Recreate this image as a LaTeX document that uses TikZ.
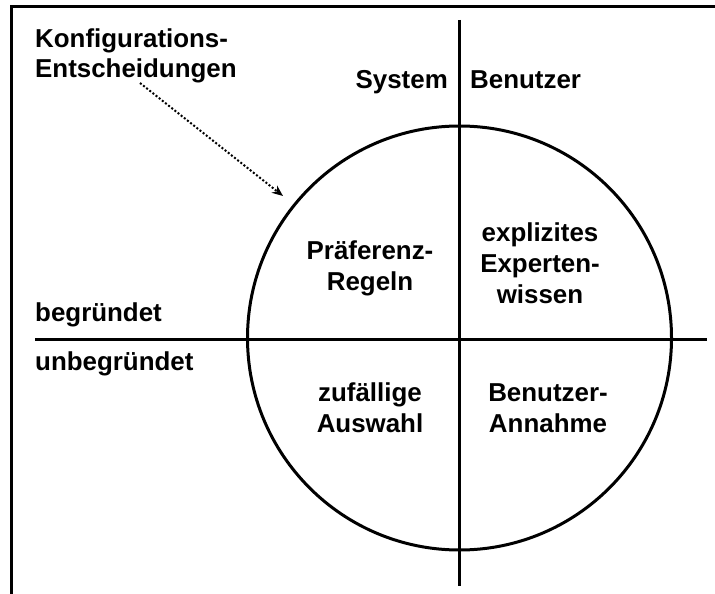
\documentclass[tikz,border=0pt]{standalone}
\usepackage{fontspec}
\setmainfont{Liberation Sans}
\usetikzlibrary{arrows.meta}
\begin{document}
\begin{tikzpicture}[x=1bp,y=-1bp,
  thick line/.style={line width=3bp},
  lbl/.style={inner sep=0pt,font=\bfseries\fontsize{26}{31}\selectfont},
  quad/.style={lbl,align=center,anchor=base}]
\useasboundingbox (0,0) rectangle (715,594);
% frame
\coordinate (fb) at (11,595);
\coordinate (ft) at (11,7);
\coordinate (fr) at (716,7);
\draw[thick line] (fb) -- (ft) -- (fr);
% axes
\coordinate (vt) at (459,20);
\coordinate (vb) at (459,586);
\coordinate (hl) at (35,339);
\coordinate (hr) at (707,339);
\draw[thick line] (vt) -- (vb);
\draw[thick line] (hl) -- (hr);
% circle
\node[draw,thick line,circle,minimum size=424bp,inner sep=0pt] (c) at (459.5,338) {};
% labels
\node[lbl,anchor=base west,align=left] (konf) at (35,78) {Konfigurations-\\Entscheidungen};
\node[lbl,anchor=base east] (sys) at (448,89) {System};
\node[lbl,anchor=base west] (ben) at (470,89) {Benutzer};
\node[lbl,anchor=base west] (beg) at (35,321) {begründet};
\node[lbl,anchor=base west] (unbeg) at (35,370) {unbegründet};
\node[quad] (pref) at (370,290) {Präferenz-\\Regeln};
\node[quad] (expl) at (540,303) {explizites\\Experten-\\wissen};
\node[quad] (zuf) at (370,432) {zufällige\\Auswahl};
\node[quad] (bann) at (548,432) {Benutzer-\\Annahme};
% arrow
\coordinate (as) at (140,83);
\coordinate (ae) at (283,196);
\draw[line width=2bp,dash pattern=on 2bp off 2bp,-{Stealth[length=11bp,width=9bp]}] (as) -- (ae);
\end{tikzpicture}
\end{document}
